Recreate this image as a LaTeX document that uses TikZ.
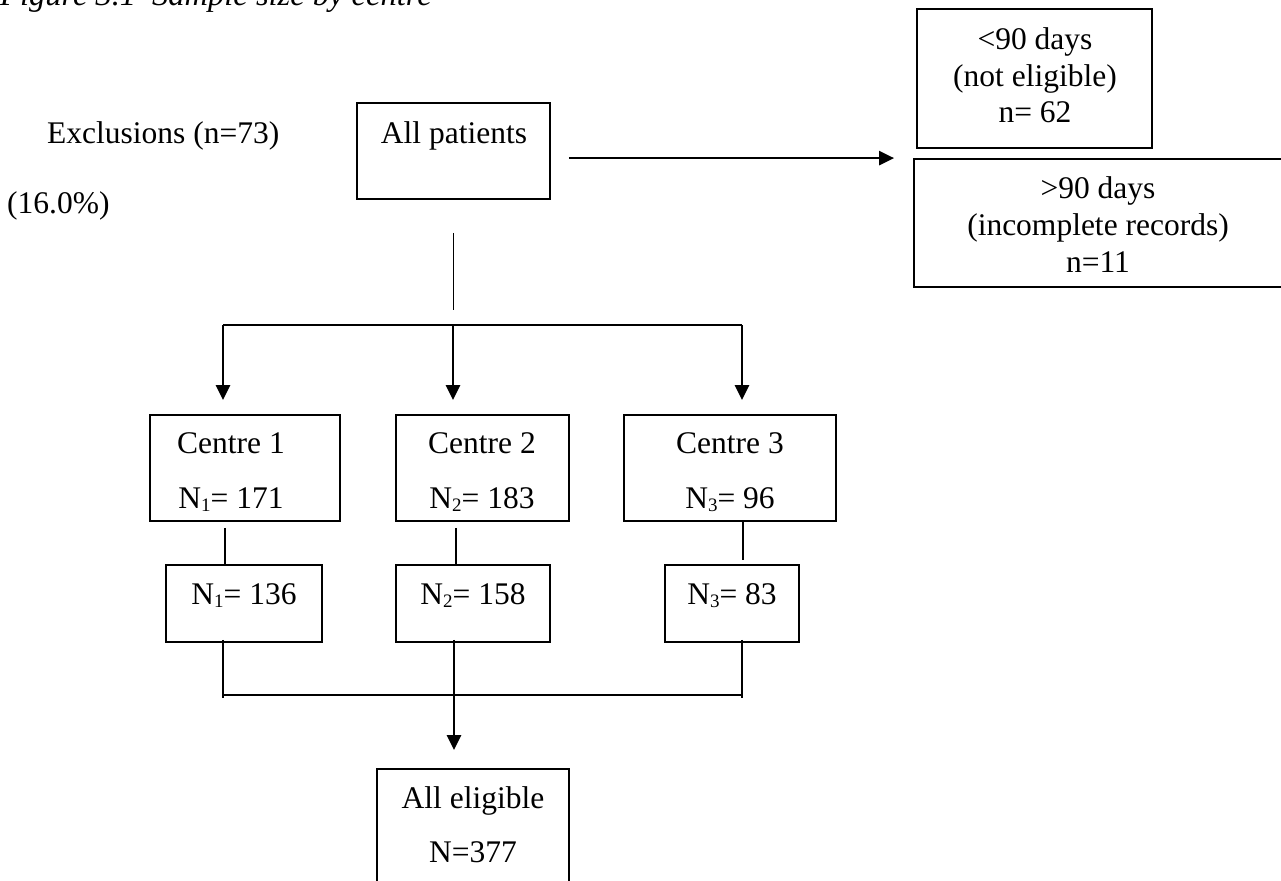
\documentclass[tikz,border=0pt]{standalone}
\usepackage{fontspec}
\setmainfont{Liberation Serif}
\usetikzlibrary{arrows.meta,calc}
\newcommand\fsz{\fontsize{31.5}{36}\selectfont}
\newcommand\sbs[1]{\raisebox{-3pt}{\fontsize{19}{19}\selectfont #1}}
\begin{document}
\begin{tikzpicture}[x=1pt,y=-1pt,
  box/.style={draw, line width=1.8pt, inner sep=0pt},
  txt/.style={inner sep=0pt, anchor=base, font=\fsz},
  thinl/.style={line width=1.4pt},
  thickl/.style={line width=2.4pt},
  arr/.style={line width=2.6pt, -{Triangle[length=15pt,width=14pt]}}
]
\useasboundingbox (0,0) rectangle (1281,880);
\clip (0,0) rectangle (1281,880);

% title (cut by the top edge, as in the reference)
\node[txt, anchor=base west, font=\fontsize{32.5}{36}\selectfont\itshape] (title) at (0,6) {Figure 3.1\hspace{16pt}Sample size by centre};

% all patients
\node[box, minimum width=193pt, minimum height=96pt] (ap) at (453.5,151) {};
\node[txt] (apt) at (454,143) {All patients};
\node[txt, anchor=base west] (exc) at (47,143) {Exclusions (n=73)};
\node[txt, anchor=base west] (pct) at (7,213) {(16.0\%)};

% exclusion boxes
\node[box, minimum width=235pt, minimum height=139pt] (b1) at (1034.5,78.5) {};
\node[txt] (b1a) at (1035,50) {<90 days};
\node[txt] (b1b) at (1035,86.5) {(not eligible)};
\node[txt] (b1c) at (1035,123) {n= 62};

\node[box, minimum width=368pt, minimum height=128pt] (b2) at (1098,223) {};
\node[txt] (b2a) at (1098,198) {>90 days};
\node[txt] (b2b) at (1098,235) {(incomplete records)};
\node[txt] (b2c) at (1098,272) {n=11};

\draw[arr] ($(ap.east |- b2.north west)+(18,0)$) -- ($(b2.north west)+(-19,0)$);

% centres
\node[box, minimum width=190pt, minimum height=106pt] (c1) at (245,468) {};
\node[txt] (c1a) at (231,453) {Centre 1};
\node[txt] (c1b) at (231,508) {N\sbs{1}= 171};

\node[box, minimum width=173pt, minimum height=106pt] (c2) at (482.5,468) {};
\node[txt] (c2a) at (482,453) {Centre 2};
\node[txt] (c2b) at (482,508) {N\sbs{2}= 183};

\node[box, minimum width=212pt, minimum height=106pt] (c3) at (730,468) {};
\node[txt] (c3a) at (730,453) {Centre 3};
\node[txt] (c3b) at (730,508) {N\sbs{3}= 96};

% split from all patients
\draw[thinl] ($(ap.south)+(0,33)$) -- ($(ap.south)+(0,110)$);
\coordinate (j1) at (223,325);
\coordinate (j2) at (453,325);
\coordinate (j3) at (742,325);
\draw[thickl] (j1) -- (j3);
\draw[arr, shorten >=14pt] (j1) -- (j1 |- c1.north);
\draw[arr, shorten >=14pt] (j2) -- (j2 |- c2.north);
\draw[arr, shorten >=14pt] (j3) -- (j3 |- c3.north);

% second level
\node[box, minimum width=156pt, minimum height=77pt] (d1) at (244,603.5) {};
\node[txt] (d1a) at (244,604) {N\sbs{1}= 136};
\node[box, minimum width=154pt, minimum height=77pt] (d2) at (473,603.5) {};
\node[txt] (d2a) at (473,604) {N\sbs{2}= 158};
\node[box, minimum width=134pt, minimum height=77pt] (d3) at (732,603.5) {};
\node[txt] (d3a) at (732,604) {N\sbs{3}= 83};

\draw[thinl] ($(c1.south)+(-20,6)$) -- ($(c1.south)+(-20,44)$);
\draw[thinl] ($(c2.south)+(-26.5,6)$) -- ($(c2.south)+(-26.5,44)$);
\draw[thinl] ($(c3.south)+(13,0)$) -- ($(c3.south)+(13,38)$);

% merge
\node[box, minimum width=192pt, minimum height=121pt] (e) at (473,829.5) {};
\node[txt] (ea) at (473,808) {All eligible};
\node[txt] (eb) at (473,862) {N=377};

\draw[thinl] ($(d1.south)+(-21,-3)$) -- ($(d1.south)+(-21,55)$);
\draw[thinl] ($(d3.south)+(10,-3)$) -- ($(d3.south)+(10,55)$);
\draw[thinl] ($(d1.south)+(-21,52)$) -- ($(d3.south)+(10,52)$);
\draw[arr] ($(d2.south)+(-19,-3)$) -- ($(e.north)+(-19,-18)$);
\end{tikzpicture}
\end{document}
